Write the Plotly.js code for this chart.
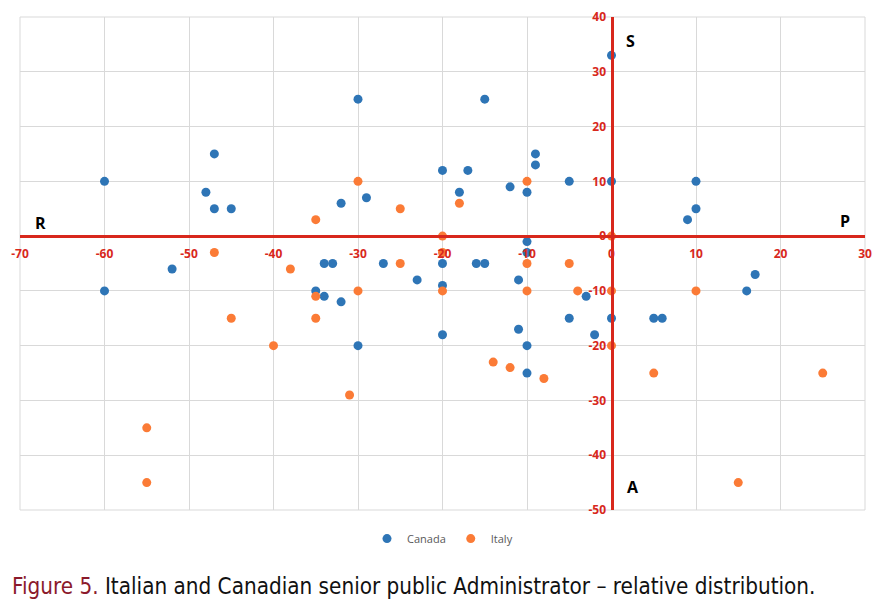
<!DOCTYPE html>
<html>
<head>
<meta charset="utf-8">
<script src="https://cdn.plot.ly/plotly-3.0.1.min.js"></script>
<style>html,body{margin:0;padding:0;background:#fff;}#chart{width:888px;height:612px;}</style>
</head>
<body>
<div id="chart"></div>
<script>
var canadaX = [-60,-60,-52,-48,-47,-47,-45,-35,-34,-33,-34,-32,-32,-30,-30,-29,-27,-23,-20,-20,-20,-20,-18,-17,-16,-15,-15,-12,-11,-11,-10,-10,-10,-10,-10,-9,-9,-5,-5,-3,-2,0,0,0,5,6,9,10,10,16,17];
var canadaY = [10,-10,-6,8,15,5,5,-10,-5,-5,-11,6,-12,25,-20,7,-5,-8,12,-5,-9,-18,8,12,-5,-5,25,9,-8,-17,8,-1,-3,-20,-25,15,13,10,-15,-11,-18,33,10,-15,-15,-15,3,10,5,-10,-7];
var italyX = [-55,-55,-47,-45,-40,-38,-35,-35,-35,-31,-30,-30,-25,-25,-20,-20,-20,-18,-14,-12,-10,-10,-10,-8,-5,-4,0,0,0,5,10,15,25];
var italyY = [-35,-45,-3,-15,-20,-6,3,-11,-15,-29,10,-10,5,-5,0,-3,-10,6,-23,-24,10,-5,-10,-26,-5,-10,0,-10,-20,-25,-10,-45,-25];
var xTicks = [-70,-60,-50,-40,-30,-20,-10,0,10,20,30];
var yTicks = [-50,-40,-30,-20,-10,0,10,20,30,40];
var seriesNames = ['Canada','Italy'];
var quadrantLabels = ['R','S','P','A'];
var quadrantX = [-67.6,2.3,27.6,2.6];
var quadrantY = [2.4,35.6,2.7,-45.8];
var caption = 'Italian and Canadian senior public Administrator \u2013 relative distribution.';

var red = '#d8281c';
var traces = [
  {x: canadaX, y: canadaY, mode: 'markers', type: 'scatter', name: seriesNames[0],
   marker: {color: '#2e75b6', size: 9}},
  {x: italyX, y: italyY, mode: 'markers', type: 'scatter', name: seriesNames[1],
   marker: {color: '#fb7b36', size: 9}}
];
var annotations = quadrantLabels.map(function(t,i){
  return {x: quadrantX[i], y: quadrantY[i], xref:'x', yref:'y', text: '<b>'+t+'</b>', showarrow:false,
          font:{family:'Open Sans, sans-serif', size:16, color:'#000'}};
});
annotations.push({xref:'paper', yref:'paper', x:-0.012, y:-0.155, xanchor:'left', yanchor:'middle', showarrow:false,
  text:'<span style="color:#8b1a2b">Figure 5.</span> '+caption,
  font:{family:'DejaVu Sans Condensed, Open Sans, sans-serif', size:22.3, color:'#111'}});
var layout = {
  width: 888, height: 612,
  margin: {l:20, r:23, t:17, b:102},
  paper_bgcolor:'#fff', plot_bgcolor:'#fff',
  showlegend: true,
  legend: {orientation:'h', x:0.5, xanchor:'center', y:-0.058, yanchor:'middle',
           font:{family:'Open Sans, sans-serif', size:11, color:'#595959'}, itemwidth:30},
  xaxis: {range:[-70,30], tickvals:xTicks, ticktext:xTicks.map(function(v){return '<b>'+v+'</b>';}), showgrid:true, gridcolor:'#d9d9d9', gridwidth:1,
          zeroline:false, showline:true, linecolor:red, linewidth:3, anchor:'free', position:50/90,
          ticks:'', ticklabelstandoff:5,
          tickfont:{family:'Open Sans, sans-serif', size:12, color:red}},
  yaxis: {range:[-50,40], tickvals:yTicks, ticktext:yTicks.map(function(v){return '<b>'+v+'</b>';}), showgrid:true, gridcolor:'#d9d9d9', gridwidth:1,
          zeroline:false, showline:true, linecolor:red, linewidth:3, anchor:'free', position:0.7,
          ticks:'', ticklabelstandoff:2,
          tickfont:{family:'Open Sans, sans-serif', size:12, color:red}},
  shapes: [{type:'rect', xref:'paper', yref:'paper', x0:0, x1:1, y0:0, y1:1, line:{color:'#d9d9d9', width:1}, layer:'below'}],
  annotations: annotations
};
Plotly.newPlot('chart', traces, layout, {displayModeBar:false, staticPlot:true});
</script>
</body>
</html>
